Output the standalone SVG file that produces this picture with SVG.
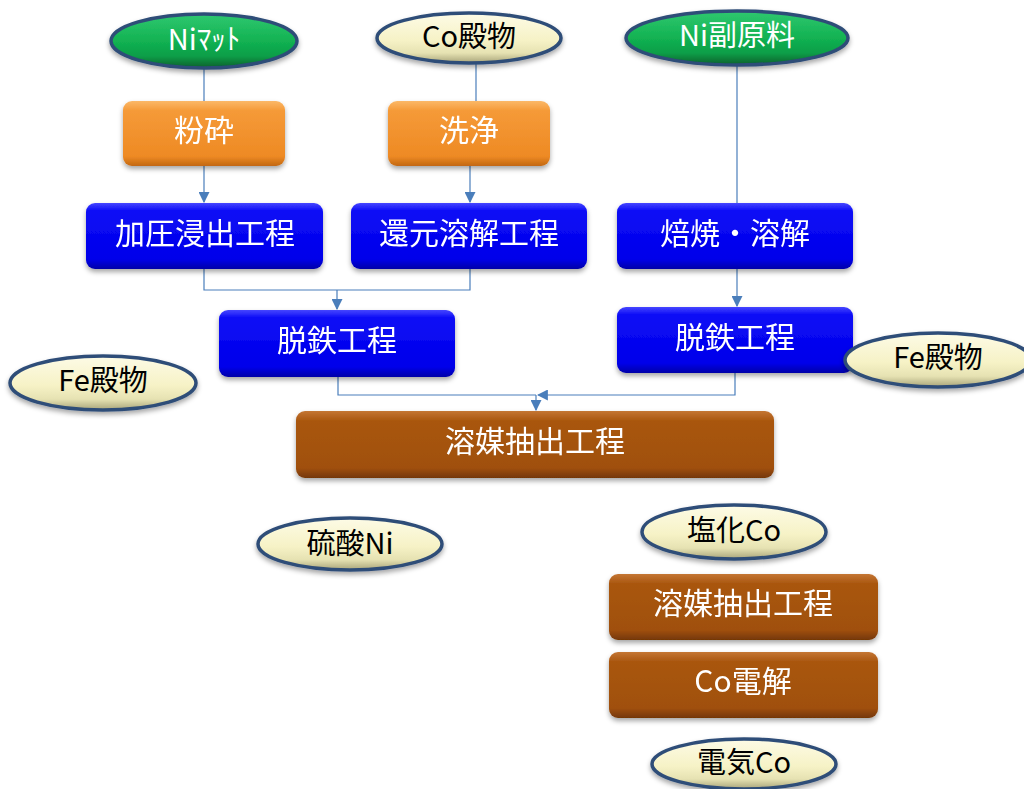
<svg xmlns="http://www.w3.org/2000/svg" width="1024" height="789" viewBox="0 0 1024 789">
  <defs>
    <linearGradient id="gBlue" x1="0" y1="0" x2="0" y2="1">
      <stop offset="0" stop-color="#4646ff"/>
      <stop offset="0.12" stop-color="#0c0cf6"/>
      <stop offset="0.85" stop-color="#0000ea"/>
      <stop offset="1" stop-color="#0000a8"/>
    </linearGradient>
    <linearGradient id="gOrange" x1="0" y1="0" x2="0" y2="1">
      <stop offset="0" stop-color="#fbb868"/>
      <stop offset="0.15" stop-color="#f59a38"/>
      <stop offset="0.85" stop-color="#ee8a24"/>
      <stop offset="1" stop-color="#c26812"/>
    </linearGradient>
    <linearGradient id="gBrown" x1="0" y1="0" x2="0" y2="1">
      <stop offset="0" stop-color="#c47634"/>
      <stop offset="0.15" stop-color="#a9560f"/>
      <stop offset="0.85" stop-color="#a0500d"/>
      <stop offset="1" stop-color="#743606"/>
    </linearGradient>
    <linearGradient id="gCream" x1="0" y1="0" x2="0" y2="1">
      <stop offset="0" stop-color="#fdfbe6"/>
      <stop offset="0.55" stop-color="#f6f2c6"/>
      <stop offset="0.8" stop-color="#e6e2b2"/>
      <stop offset="1" stop-color="#a8a47a"/>
    </linearGradient>
    <linearGradient id="gGreen" x1="0" y1="0" x2="0" y2="1">
      <stop offset="0" stop-color="#30c870"/>
      <stop offset="0.5" stop-color="#12b252"/>
      <stop offset="0.78" stop-color="#0e9e48"/>
      <stop offset="1" stop-color="#06602c"/>
    </linearGradient>
    <filter id="shadow" x="-10%" y="-20%" width="120%" height="150%">
      <feDropShadow dx="0" dy="3" stdDeviation="2.5" flood-color="#000" flood-opacity="0.35"/>
    </filter>
    <marker id="arrowB" viewBox="0 0 10 10" refX="9" refY="5" markerWidth="11" markerHeight="11" orient="auto" markerUnits="userSpaceOnUse">
      <path d="M0,0 L10,5 L0,10 z" fill="#4a7ebb"/>
    </marker>
  </defs>
  <style>
    .conn { fill: none; stroke: #4a7ebb; stroke-width: 1.2; }
    .box { filter: url(#shadow); }
    .blue { fill: url(#gBlue); }
    .orange { fill: url(#gOrange); }
    .brown { fill: url(#gBrown); }
    .cream { fill: url(#gCream); stroke: #2f4d78; stroke-width: 3.5; filter: url(#shadow); }
    .green { fill: url(#gGreen); stroke: #2f4d78; stroke-width: 3.5; filter: url(#shadow); }
    text { font-family: "Noto Sans CJK JP", "Noto Sans", sans-serif; text-anchor: middle; dominant-baseline: central; }
    .wt { fill: #ffffff; font-size: 30px; }
    .bt { fill: #000000; font-size: 29px; }
    .et { fill: #ffffff; font-size: 29px; }
  </style>

  <rect width="1024" height="789" fill="#ffffff"/>

  <!-- connectors -->
  <g id="connectors">
    <path class="conn" d="M204,66 V101"/>
    <path class="conn" d="M204,166 V202" marker-end="url(#arrowB)"/>
    <path class="conn" d="M476,62 V101"/>
    <path class="conn" d="M470,166 V202" marker-end="url(#arrowB)"/>
    <path class="conn" d="M737,64 V306" marker-end="url(#arrowB)"/>
    <path class="conn" d="M204,269 V290 H470 V269"/>
    <path class="conn" d="M337,290 V309" marker-end="url(#arrowB)"/>
    <path class="conn" d="M338,377 V395 H536"/>
    <path class="conn" d="M735,373 V395 H538" marker-end="url(#arrowB)"/>
    <path class="conn" d="M536,395 V410" marker-end="url(#arrowB)"/>
  </g>

  <!-- process boxes -->
  <g id="node-funsai" class="box">
    <rect class="orange" x="123" y="101" width="162" height="65" rx="9"/>
    <text class="wt" x="204" y="128">粉砕</text>
  </g>
  <g id="node-senjo" class="box">
    <rect class="orange" x="388" y="101" width="162" height="65" rx="9"/>
    <text class="wt" x="469" y="128">洗浄</text>
  </g>
  <g id="node-kaatsu" class="box">
    <rect class="blue" x="86" y="203" width="237" height="66" rx="9"/>
    <text class="wt" x="205" y="231">加圧浸出工程</text>
  </g>
  <g id="node-kangen" class="box">
    <rect class="blue" x="351" y="203" width="236" height="66" rx="9"/>
    <text class="wt" x="469" y="231">還元溶解工程</text>
  </g>
  <g id="node-baisho" class="box">
    <rect class="blue" x="617" y="203" width="236" height="66" rx="9"/>
    <text class="wt" x="735" y="231">焙焼・溶解</text>
  </g>
  <g id="node-datetsu-l" class="box">
    <rect class="blue" x="219" y="310" width="236" height="67" rx="9"/>
    <text class="wt" x="337" y="338">脱鉄工程</text>
  </g>
  <g id="node-datetsu-r" class="box">
    <rect class="blue" x="617" y="307" width="236" height="66" rx="9"/>
    <text class="wt" x="735" y="335">脱鉄工程</text>
  </g>
  <g id="node-sx-main" class="box">
    <rect class="brown" x="296" y="411" width="478" height="67" rx="9"/>
    <text class="wt" x="535" y="439">溶媒抽出工程</text>
  </g>
  <g id="node-sx-co" class="box">
    <rect class="brown" x="609" y="574" width="269" height="66" rx="9"/>
    <text class="wt" x="743" y="601">溶媒抽出工程</text>
  </g>
  <g id="node-co-ew" class="box">
    <rect class="brown" x="609" y="652" width="269" height="66" rx="9"/>
    <text class="wt" x="743" y="679">Co電解</text>
  </g>

  <!-- material ellipses -->
  <g id="node-ni-matte">
    <ellipse class="green" cx="204" cy="41" rx="93" ry="27"/>
    <text class="et" x="204" y="37">Niﾏｯﾄ</text>
  </g>
  <g id="node-co-ppt">
    <ellipse class="cream" cx="469" cy="38" rx="92" ry="25"/>
    <text class="bt" x="469" y="34">Co殿物</text>
  </g>
  <g id="node-ni-sub">
    <ellipse class="green" cx="737" cy="38" rx="111" ry="27"/>
    <text class="et" x="737" y="33">Ni副原料</text>
  </g>
  <g id="node-fe-ppt-l">
    <ellipse class="cream" cx="103" cy="383" rx="93" ry="27"/>
    <text class="bt" x="103" y="378">Fe殿物</text>
  </g>
  <g id="node-fe-ppt-r">
    <ellipse class="cream" cx="938" cy="360" rx="93" ry="27"/>
    <text class="bt" x="938" y="355">Fe殿物</text>
  </g>
  <g id="node-niso4">
    <ellipse class="cream" cx="350" cy="544" rx="92" ry="26"/>
    <text class="bt" x="350" y="541">硫酸Ni</text>
  </g>
  <g id="node-cocl">
    <ellipse class="cream" cx="734" cy="532" rx="92" ry="27"/>
    <text class="bt" x="734" y="528">塩化Co</text>
  </g>
  <g id="node-co-cathode">
    <ellipse class="cream" cx="744" cy="764" rx="92" ry="25"/>
    <text class="bt" x="744" y="760">電気Co</text>
  </g>
</svg>
